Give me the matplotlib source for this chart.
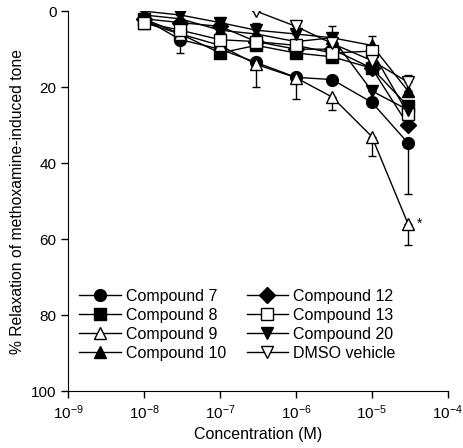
import numpy as np
import matplotlib
matplotlib.use('Agg')
import matplotlib.pyplot as plt

plt.rcParams.update({
    'font.family': ['Liberation Sans', 'DejaVu Sans'],
    'font.size': 11,
    'mathtext.fontset': 'custom',
    'mathtext.rm': 'Liberation Sans',
    'mathtext.it': 'Liberation Sans:italic',
})

# --- data ---
conc = [1e-8, 3e-8, 1e-7, 3e-7, 1e-6, 3e-6, 1e-5, 3e-5]
conc_dmso = [3e-7, 1e-6, 3e-6, 1e-5, 3e-5]

cpd7 = [2, 7.5, 10, 13.5, 17.4, 18, 24, 34.7]
cpd7_lo = [0, 3.5, 0, 0, 0, 0, 0, 13.5]
cpd8 = [2, 6, 11, 9, 11, 12, 15, 25]
cpd9 = [3, 6, 9, 14, 17.5, 22.6, 33, 56]
cpd9_lo = [0, 0, 0, 6, 5.5, 3.5, 5, 5.5]
cpd10 = [1, 2, 5, 6, 8, 7, 9, 21]
cpd10_up = [0, 0, 0, 0, 0, 0, 2.5, 0]
cpd12 = [2, 3, 4, 8, 10, 10, 15, 30]
cpd13 = [3, 5, 7.5, 8, 9, 11, 10.5, 27]
cpd20 = [0, 1, 3, 5, 6, 7, 21, 26]
cpd20_up = [0, 0, 0, 2, 0, 3, 0, 0]
dmso = [0, 4, 8.5, 13, 18.7]
dmso_up = [0, 0, 0, 0, 2]

fig = plt.figure(figsize=(4.64, 4.48), dpi=100)
ax = fig.add_axes([0.147, 0.127, 0.818, 0.848])

common = dict(color='black', linewidth=1.0, markersize=8.5, capsize=3,
              elinewidth=1.0, markeredgecolor='black', markeredgewidth=1.0)


def draw(x, y, marker, filled, label, lo=None, up=None):
    n = len(y)
    lo = np.zeros(n) if lo is None else np.array(lo)
    up = np.zeros(n) if up is None else np.array(up)
    # y axis is inverted, so "lo" (larger relaxation) goes down on screen
    ax.errorbar(x, y, yerr=[up, lo], marker=marker,
                markerfacecolor='black' if filled else 'white',
                label=label, **common)


draw(conc, cpd7, 'o', True, 'Compound 7', lo=cpd7_lo)
draw(conc, cpd8, 's', True, 'Compound 8')
draw(conc, cpd9, '^', False, 'Compound 9', lo=cpd9_lo)
draw(conc, cpd10, '^', True, 'Compound 10', up=cpd10_up)
draw(conc, cpd12, 'D', True, 'Compound 12')
draw(conc, cpd13, 's', False, 'Compound 13')
draw(conc, cpd20, 'v', True, 'Compound 20', up=cpd20_up)
draw(conc_dmso, dmso, 'v', False, 'DMSO vehicle', up=dmso_up)

ax.text(3.9e-5, cpd9[-1], '*', fontsize=10, va='center')

ax.set_xscale('log')
ax.set_xlim(1e-9, 1e-4)
ax.set_ylim(100, 0)
ax.set_yticks([0, 20, 40, 60, 80, 100])
ax.set_xticks([1e-9, 1e-8, 1e-7, 1e-6, 1e-5, 1e-4])
ax.minorticks_off()
ax.tick_params(direction='out', length=5, width=1, labelsize=11)
for s in ['top', 'right']:
    ax.spines[s].set_visible(False)
ax.set_xlabel('Concentration (M)', fontsize=11.5)
ax.set_ylabel('% Relaxation of methoxamine-induced tone', fontsize=11.3)

handles, labels = ax.get_legend_handles_labels()
handles = [h[0] for h in handles]
ax.legend(handles, labels, ncol=2, loc='lower left', bbox_to_anchor=(0.0, 0.05),
          frameon=False, fontsize=11.5, handlelength=2.6, handletextpad=0.3,
          columnspacing=1.3, labelspacing=0.25, borderaxespad=0.3)

fig.savefig('out.png', dpi=100)
